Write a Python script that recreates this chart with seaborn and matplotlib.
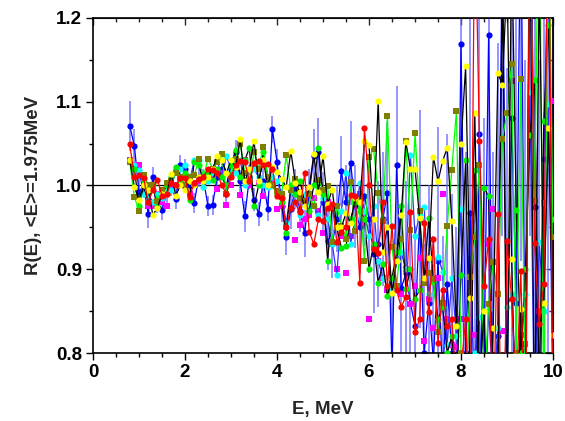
import numpy as np
import matplotlib
matplotlib.use("Agg")
import matplotlib.pyplot as plt
from matplotlib.ticker import MultipleLocator, FormatStrFormatter
import seaborn as sns

# Energy grid, MeV
energy = np.round(np.arange(0.8, 10.001, 0.1), 1)

# Ratio R(E) for each measurement set
r_blue = [1.071, 1.047,
          0.992, 1.000, 0.966, 1.010, 0.980, 0.971, 0.990, 1.000, 0.984, 1.024,
          1.020, 1.000, 0.979, 1.010, 1.008, 0.975, 0.977, 1.010, 1.020, 0.990,
          1.020, 1.040, 1.005, 0.963, 1.010, 0.983, 0.966, 1.005, 0.972, 1.067,
          1.028, 0.976, 0.939, 0.972, 0.996, 0.970, 0.943, 0.990, 1.035, 1.040,
          0.980, 0.934, 0.930, 0.960, 1.017, 0.980, 1.027, 0.975, 0.950, 0.988,
          0.960, 0.918, 0.930, 0.960, 0.991, 0.780, 1.024, 0.877, 0.895, 0.860,
          0.832, 0.960, 0.800, 0.860, 0.790, 0.910, 0.770, 0.882, 0.800, 0.750,
          1.169, 0.800, 0.967, 0.700, 1.061, 0.780, 1.179, 0.700, 0.820, 1.300,
          0.760, 1.080, 0.860, 1.350, 0.700, 1.400, 0.974, 0.650, 1.031, 1.300,
          0.750]
err_blue = [0.030, 0.020,
            0.017, 0.015, 0.017, 0.012, 0.013, 0.012, 0.012, 0.012, 0.012, 0.012,
            0.012, 0.012, 0.012, 0.012, 0.012, 0.012, 0.012, 0.012, 0.013, 0.013,
            0.013, 0.014, 0.013, 0.018, 0.014, 0.014, 0.014, 0.015, 0.015, 0.016,
            0.016, 0.020, 0.022, 0.024, 0.024, 0.026, 0.028, 0.030, 0.032, 0.040,
            0.036, 0.035, 0.040, 0.040, 0.042, 0.045, 0.050, 0.050, 0.055, 0.060,
            0.065, 0.070, 0.075, 0.080, 0.085, 0.090, 0.095, 0.100, 0.110, 0.110,
            0.120, 0.130, 0.130, 0.140, 0.150, 0.160, 0.170, 0.180, 0.190, 0.200,
            0.220, 0.240, 0.250, 0.260, 0.280, 0.300, 0.320, 0.340, 0.350, 0.360,
            0.380, 0.400, 0.420, 0.440, 0.450, 0.460, 0.480, 0.500, 0.500, 0.520,
            0.540]
r_red = [1.049, 1.010,
         1.012, 1.009, 0.980, 0.995, 1.007, 0.988, 0.990, 1.003, 1.000, 1.009,
         1.009, 0.986, 1.003, 1.008, 1.010, 1.020, 1.018, 1.015, 1.000, 0.990,
         1.010, 1.025, 1.029, 1.028, 1.005, 1.027, 1.029, 1.025, 1.026, 1.020,
         0.987, 0.985, 0.950, 0.973, 0.980, 0.968, 1.015, 0.945, 0.930, 0.960,
         0.957, 0.973, 0.978, 0.932, 0.944, 0.951, 0.989, 0.987, 0.884, 1.068,
         1.001, 0.924, 0.919, 0.980, 0.880, 0.952, 0.875, 0.855, 0.867, 0.968,
         0.825, 0.840, 0.955, 0.849, 0.936, 0.812, 0.875, 0.832, 0.840, 0.760,
         0.780, 0.841, 0.700, 1.350, 1.053, 0.880, 0.936, 0.700, 0.966, 0.600,
         0.934, 0.864, 0.750, 0.898, 0.650, 1.350, 0.931, 0.835, 0.882, 1.400,
         0.700]
r_green = [1.030, 1.020,
           0.975, 1.000, 0.980, 1.000, 0.975, 0.990, 1.000, 1.010, 1.022, 1.005,
           1.015, 0.983, 1.028, 1.025, 1.005, 1.015, 1.007, 1.020, 1.010, 1.000,
           1.025, 1.042, 1.010, 1.030, 1.045, 0.975, 1.000, 1.040, 1.010, 1.000,
           0.990, 0.980, 0.943, 1.000, 0.990, 1.005, 0.980, 0.970, 1.000, 1.045,
           0.990, 0.910, 0.975, 0.950, 0.925, 0.928, 0.960, 0.980, 0.970, 0.960,
           0.900, 0.930, 0.884, 0.906, 0.868, 0.890, 0.920, 0.975, 0.876, 0.900,
           0.865, 0.875, 0.890, 0.961, 0.885, 0.840, 0.855, 0.800, 0.820, 0.760,
           0.893, 1.030, 0.750, 1.019, 0.650, 0.997, 0.987, 0.700, 0.750, 1.250,
           0.700, 1.300, 0.971, 0.800, 0.900, 1.060, 1.126, 0.750, 1.077, 1.192,
           0.960]
r_yellow = [1.030, 0.998,
            0.983, 1.000, 0.995, 0.965, 0.973, 0.990, 0.990, 1.014, 0.988, 1.000,
            0.995, 1.005, 1.000, 1.010, 1.005, 1.010, 1.020, 1.035, 1.030, 1.015,
            1.030, 1.022, 1.055, 1.005, 1.020, 1.053, 1.005, 1.030, 1.000, 1.022,
            1.016, 1.008, 0.998, 1.041, 1.003, 0.992, 0.975, 0.998, 1.037, 0.992,
            1.035, 0.978, 0.995, 0.950, 0.950, 0.967, 0.955, 0.985, 0.980, 1.053,
            1.048, 0.960, 1.101, 0.920, 0.951, 0.872, 0.910, 0.965, 1.052, 1.020,
            1.020, 0.961, 0.890, 0.914, 1.034, 1.005, 1.029, 1.045, 0.958, 0.832,
            1.050, 1.142, 0.866, 1.087, 0.760, 0.850, 0.700, 0.830, 1.134, 1.120,
            1.250, 0.912, 0.700, 0.853, 0.750, 1.300, 0.700, 1.250, 0.860, 1.068,
            0.821]
r_olive = [1.028, 0.986,
           0.970, 1.013, 1.000, 1.000, 0.982, 0.995, 1.003, 1.005, 1.015, 1.010,
           1.000, 1.010, 1.012, 1.031, 1.010, 1.032, 1.020, 1.028, 1.037, 0.990,
           1.012, 1.032, 1.050, 1.015, 1.005, 1.040, 1.020, 1.046, 1.010, 1.000,
           0.993, 0.990, 1.036, 0.995, 1.008, 0.985, 0.982, 0.990, 0.975, 1.006,
           0.995, 0.999, 0.932, 0.975, 0.952, 0.936, 1.004, 0.946, 0.982, 0.910,
           1.034, 1.043, 0.991, 0.958, 1.083, 0.926, 0.880, 0.936, 1.053, 0.947,
           1.063, 0.970, 0.883, 0.896, 0.888, 0.825, 0.860, 0.952, 1.019, 1.089,
           0.800, 0.750, 0.891, 0.938, 1.024, 0.750, 0.859, 0.909, 0.870, 1.056,
           1.086, 1.145, 0.800, 1.127, 0.750, 1.300, 0.982, 1.400, 0.700, 1.350,
           0.939]
r_cyan = [1.030, 1.025,
          1.018, 0.990, 0.990, 0.980, 0.990, 0.985, 0.995, 0.995, 1.020, 1.020,
          1.024, 1.005, 1.030, 1.030, 0.998, 1.005, 1.015, 1.030, 1.010, 1.035,
          1.020, 1.015, 1.030, 1.000, 1.010, 1.020, 1.010, 1.000, 0.998, 1.010,
          1.005, 0.990, 0.955, 0.993, 0.980, 0.965, 0.990, 0.975, 0.975, 0.965,
          0.985, 0.960, 0.930, 0.893, 0.970, 1.015, 0.930, 0.960, 1.003, 0.970,
          0.940, 0.975, 0.910, 0.890, 0.880, 0.875, 0.910, 0.920, 0.900, 1.036,
          0.940, 0.965, 0.974, 0.870, 0.910, 0.915, 0.897, 0.810, 0.890, 0.820,
          0.972, 0.700, 0.750, 0.800, 0.843, 0.700, 0.853, 0.750, 0.830, 0.700,
          0.855, 0.870, 0.750, 0.800, 0.871, 1.112, 0.700, 0.933, 0.850, 1.097,
          0.750]
r_magenta = [1.030, 1.025,
             1.024, 1.010, 0.975, 0.975, 0.990, 0.980, 0.975, 0.998, 1.000, 1.005,
             1.000, 0.990, 1.003, 1.005, 1.005, 1.010, 1.008, 0.996, 1.015, 0.977,
             1.000, 1.020, 0.989, 1.030, 1.000, 1.020, 1.003, 0.988, 1.010, 1.005,
             0.972, 0.975, 0.950, 0.973, 0.935, 0.953, 0.960, 0.965, 0.985, 0.970,
             0.943, 0.980, 0.930, 0.900, 0.940, 0.896, 0.940, 0.975, 0.990, 0.955,
             0.840, 0.925, 0.910, 0.890, 0.875, 0.890, 0.880, 0.870, 0.900, 0.858,
             0.880, 0.914, 0.814, 0.865, 0.830, 0.890, 0.990, 0.840, 0.810, 0.807,
             0.840, 0.795, 0.700, 0.822, 0.750, 0.700, 0.930, 0.972, 0.700, 0.826,
             0.750, 1.125, 0.700, 0.822, 0.811, 0.700, 0.750, 0.850, 0.979, 0.700,
             1.101]

fig = plt.figure(figsize=(5.65, 4.21), dpi=100)
sns.set_style("ticks")
plt.rcParams["font.family"] = ["Liberation Sans", "DejaVu Sans"]
plt.rcParams["font.weight"] = "bold"
plt.rcParams["axes.labelweight"] = "bold"

ax = fig.add_axes([0.1646, 0.1615, 0.8142, 0.7960])

# light blue error bars under everything
ax.errorbar(energy, r_blue, yerr=err_blue, fmt="none",
            ecolor=(0.4, 0.4, 1.0, 0.75), elinewidth=1.3, zorder=1)

# (values, marker face colour, line colour, marker shape, draw line)
series = [
    (r_blue, "#0000ff", "#0000ff", "o", True),
    (r_magenta, "#ff00ff", None, "s", False),
    (r_cyan, "#00ffff", "#3030ff", "o", True),
    (r_green, "#00ee00", "#000000", "o", True),
    (r_olive, "#808000", "#00ff00", "s", True),
    (r_yellow, "#ffff00", "#000000", "o", True),
    (r_red, "#ff0000", "#ff0000", "o", True),
]

z = 2
for vals, mcol, lcol, mk, with_line in series:
    if with_line:
        sns.lineplot(x=energy, y=vals, ax=ax, color=lcol, linewidth=0.9,
                     sort=False, estimator=None, zorder=z)
    sns.scatterplot(x=energy, y=vals, ax=ax, color=mcol, marker=mk,
                    s=20, linewidth=0, zorder=z + 0.5)
    z += 1

ax.axhline(1.0, color="black", linewidth=0.9, zorder=0.5)

ax.set_xlim(0, 10)
ax.set_ylim(0.8, 1.2)
ax.xaxis.set_major_locator(MultipleLocator(2))
ax.xaxis.set_minor_locator(MultipleLocator(0.5))
ax.yaxis.set_major_locator(MultipleLocator(0.1))
ax.yaxis.set_minor_locator(MultipleLocator(0.05))
ax.yaxis.set_major_formatter(FormatStrFormatter("%.1f"))

for side in ["top", "right", "bottom", "left"]:
    ax.spines[side].set_visible(True)
    ax.spines[side].set_linewidth(1.2)
    ax.spines[side].set_color("black")

ax.tick_params(which="both", direction="out", top=False, right=False,
               colors="black", width=1.0)
ax.tick_params(which="major", length=5, labelsize=13.5, pad=3)
ax.tick_params(which="minor", length=3)
ax2 = ax.secondary_xaxis("top")
ax2.xaxis.set_major_locator(MultipleLocator(2))
ax2.xaxis.set_minor_locator(MultipleLocator(0.5))
ax2.tick_params(which="both", direction="in", labeltop=False, width=1.0)
ax2.tick_params(which="major", length=5)
ax2.tick_params(which="minor", length=3)
ay2 = ax.secondary_yaxis("right")
ay2.yaxis.set_major_locator(MultipleLocator(0.1))
ay2.yaxis.set_minor_locator(MultipleLocator(0.05))
ay2.tick_params(which="both", direction="in", labelright=False, width=1.0)
ay2.tick_params(which="major", length=5)
ay2.tick_params(which="minor", length=3)

for lab in ax.get_xticklabels() + ax.get_yticklabels():
    lab.set_fontweight("bold")
    lab.set_fontfamily(["Liberation Sans", "DejaVu Sans"])

ax.set_xlabel("E, MeV", fontsize=13.5, fontweight="bold", labelpad=14)
ax.set_ylabel("R(E), <E>=1.975MeV", fontsize=13.5, fontweight="bold",
              labelpad=10)

fig.savefig("out.png", dpi=100)
